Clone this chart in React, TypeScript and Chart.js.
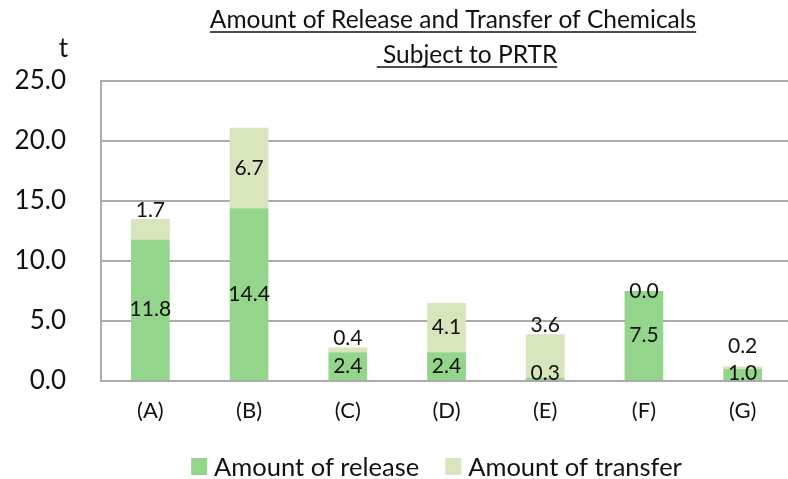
import React, { useEffect, useRef } from 'react';
import { Chart, registerables } from 'chart.js';

Chart.register(...registerables);

const categories = ['(A)', '(B)', '(C)', '(D)', '(E)', '(F)', '(G)'];
const releaseValues = [11.8, 14.4, 2.4, 2.4, 0.3, 7.5, 1.0];
const transferValues = [1.7, 6.7, 0.4, 4.1, 3.6, 0.0, 0.2];
const transferLabelPlacement = ['above', 'center', 'above', 'center', 'above', 'center', 'above'];
const seriesNames = ['Amount of release', 'Amount of transfer'];
const titleLines = ['Amount of Release and Transfer of Chemicals', ' Subject to PRTR'];
const unitLabel = 't';
const yMin = 0;
const yMax = 25;
const yStep = 5;

const FONT = 'Lato, "Open Sans", sans-serif';
const releaseColor = '#94d58c';
const transferColor = '#d8e4bc';
const gridColor = '#ababab';
const textColor = '#111111';

const overlayPlugin = {
  id: 'overlay',
  afterDatasetsDraw(chart: any) {
    const ctx = chart.ctx;
    const area = chart.chartArea;
    const relMeta = chart.getDatasetMeta(0);
    const trMeta = chart.getDatasetMeta(1);
    ctx.save();
    ctx.fillStyle = textColor;
    ctx.font = `21px ${FONT}`;
    ctx.textAlign = 'center';
    ctx.textBaseline = 'middle';
    relMeta.data.forEach((bar: any, i: number) => {
      const relY = Math.min((bar.y + bar.base) / 2, area.bottom - 8);
      ctx.fillText(releaseValues[i].toFixed(1), bar.x, relY);
      const tb = trMeta.data[i];
      let ty;
      if (transferLabelPlacement[i] === 'center') {
        ty = (tb.y + tb.base) / 2;
      } else {
        ty = Math.min(tb.y - 9, relY - 27);
      }
      ctx.fillText(transferValues[i].toFixed(1), tb.x, ty);
    });
    ctx.restore();
  },
  afterDraw(chart: any) {
    const ctx = chart.ctx;
    ctx.save();
    ctx.fillStyle = textColor;
    ctx.strokeStyle = textColor;
    // title
    ctx.font = `24.5px ${FONT}`;
    ctx.textBaseline = 'alphabetic';
    ctx.textAlign = 'left';
    const centers = [453, 467];
    const baselines = [28, 63];
    titleLines.forEach((line, k) => {
      const w = ctx.measureText(line).width;
      const x0 = centers[k] - w / 2;
      ctx.fillText(line, x0, baselines[k]);
      ctx.lineWidth = 1.5;
      ctx.beginPath();
      ctx.moveTo(x0, baselines[k] + 4);
      ctx.lineTo(x0 + w, baselines[k] + 4);
      ctx.stroke();
    });
    // unit label
    ctx.font = `26px ${FONT}`;
    ctx.textAlign = 'right';
    ctx.fillText(unitLabel, 68, 57);
    // legend
    ctx.font = `25.5px ${FONT}`;
    ctx.textAlign = 'left';
    const box = 16;
    const gap = 7;
    const spacing = 26;
    const colors = [releaseColor, transferColor];
    const widths = seriesNames.map((n) => ctx.measureText(n).width);
    const total = widths.reduce((a, b) => a + b, 0) + 2 * (box + gap) + spacing;
    let x = 436.5 - total / 2;
    seriesNames.forEach((name, k) => {
      ctx.fillStyle = colors[k];
      ctx.fillRect(x, 458, box, 17);
      ctx.fillStyle = textColor;
      ctx.fillText(name, x + box + gap, 476);
      x += box + gap + widths[k] + spacing;
    });
    ctx.restore();
  },
};

export default function App() {
  const ref = useRef<HTMLCanvasElement | null>(null);
  useEffect(() => {
    if (!ref.current) return;
    const chart = new Chart(ref.current, {
      type: 'bar',
      data: {
        labels: categories,
        datasets: [
          { label: seriesNames[0], data: releaseValues, backgroundColor: releaseColor, barPercentage: 1, categoryPercentage: 0.392 },
          { label: seriesNames[1], data: transferValues, backgroundColor: transferColor, barPercentage: 1, categoryPercentage: 0.392 },
        ],
      },
      options: {
        animation: false,
        responsive: true,
        maintainAspectRatio: false,
        events: [],
        layout: { padding: { top: 81, right: 8, left: 0, bottom: 0 } },
        plugins: { legend: { display: false }, title: { display: false }, tooltip: { enabled: false } },
        scales: {
          x: {
            stacked: true,
            grid: { display: false },
            border: { display: true, color: gridColor, width: 2 },
            ticks: { color: textColor, font: { family: FONT, size: 22 }, padding: 9 },
            afterFit: (s: any) => { s.height = 98; },
          },
          y: {
            stacked: true,
            min: yMin,
            max: yMax,
            grid: { color: gridColor, lineWidth: 2, drawTicks: false },
            border: { display: true, color: gridColor, width: 2 },
            ticks: {
              stepSize: yStep,
              color: textColor,
              font: { family: FONT, size: 26 },
              padding: 35,
              callback: (v: any) => Number(v).toFixed(1),
            },
            afterFit: (s: any) => { s.width = 101; },
          },
        },
      },
      plugins: [overlayPlugin],
    });
    return () => chart.destroy();
  }, []);
  return (
    <div style={{ position: 'absolute', left: 0, top: 0, width: 788, height: 479, overflow: 'hidden', background: '#fff' }}>
      <div style={{ position: 'relative', width: 800, height: 479 }}>
        <canvas ref={ref} />
      </div>
    </div>
  );
}
